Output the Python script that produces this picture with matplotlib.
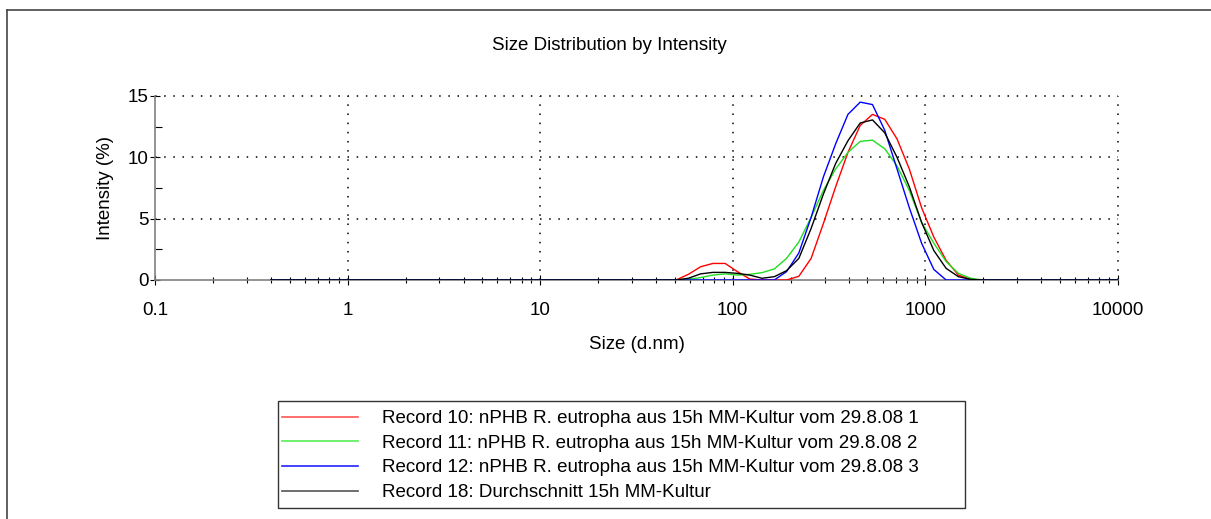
import matplotlib
matplotlib.use("Agg")
import matplotlib.pyplot as plt
from matplotlib.lines import Line2D
from matplotlib.patches import Rectangle
from matplotlib.ticker import LogLocator, FixedLocator, NullFormatter

plt.rcParams['font.family'] = ['Liberation Sans', 'DejaVu Sans']

# Size bins (d.nm)
sizes = [0.4, 0.4632, 0.5365, 0.6213, 0.7195, 0.8332, 0.9649, 1.117, 1.294, 1.499,
         1.736, 2.010, 2.328, 2.696, 3.122, 3.615, 4.187, 4.849, 5.615, 6.503,
         7.531, 8.721, 10.10, 11.70, 13.54, 15.69, 18.17, 21.04, 24.36, 28.21,
         32.67, 37.84, 43.82, 50.75, 58.77, 68.06, 78.82, 91.28, 105.7, 122.4,
         141.8, 164.2, 190.1, 220.2, 255.0, 295.3, 342.0, 396.1, 458.7, 531.2,
         615.1, 712.4, 825.0, 955.4, 1106, 1281, 1484, 1718, 1990, 2305,
         2669, 3091, 3580, 4145, 4801, 5560, 6439, 7456, 8635, 10000]

n_lead = 33  # bins up to 43.82 nm that are zero
n_tail = 11  # bins from 2305 nm on that are zero

rec10_peak = [0.0, 0.46, 1.08, 1.35, 1.35, 0.68, 0.08, 0.0, 0.0, 0.0,
              0.3, 1.76, 4.6, 7.6, 10.4, 12.6, 13.5, 13.1, 11.5, 9.05,
              5.9, 3.5, 1.6, 0.4, 0.05, 0.0]
rec11_peak = [0.0, 0.05, 0.2, 0.4, 0.5, 0.4, 0.46, 0.6, 0.9, 1.76,
              3.1, 5.1, 7.3, 9.05, 10.4, 11.3, 11.4, 10.7, 9.3, 7.3,
              4.7, 3.0, 1.5, 0.54, 0.14, 0.0]
rec12_peak = [0.0, 0.0, 0.0, 0.0, 0.0, 0.0, 0.0, 0.0, 0.0, 0.68,
              2.2, 5.1, 8.4, 11.1, 13.5, 14.5, 14.3, 12.2, 9.05, 5.9,
              3.0, 0.86, 0.0, 0.0, 0.0, 0.0]
rec18_peak = [0.0, 0.14, 0.5, 0.62, 0.62, 0.54, 0.4, 0.14, 0.27, 0.76,
              1.76, 4.2, 7.0, 9.5, 11.35, 12.8, 13.05, 12.0, 10.0, 7.6,
              4.7, 2.4, 0.95, 0.27, 0.05, 0.0]

labels = ["Record 10: nPHB R. eutropha aus 15h MM-Kultur vom 29.8.08 1",
          "Record 11: nPHB R. eutropha aus 15h MM-Kultur vom 29.8.08 2",
          "Record 12: nPHB R. eutropha aus 15h MM-Kultur vom 29.8.08 3",
          "Record 18: Durchschnitt 15h MM-Kultur"]
colors = ["#ff0000", "#22dd22", "#0000ff", "#000000"]
legend_colors = ["#ff5555", "#55ee55", "#2222ff", "#555555"]

xtick_vals = [0.1, 1, 10, 100, 1000, 10000]
xtick_labels = ["0.1", "1", "10", "100", "1000", "10000"]
ytick_vals = [0, 5, 10, 15]

series = [[0.0] * n_lead + p + [0.0] * n_tail
          for p in (rec10_peak, rec11_peak, rec12_peak, rec18_peak)]

FS = 13.5
fig = plt.figure(figsize=(12.11, 5.19), dpi=100)
W, H = 1211, 519
ax = fig.add_axes([155 / W, 1 - 280 / H, (1118 - 155) / W, (280 - 96) / H])

for y, c, lab in zip(series, colors, labels):
    ax.plot(sizes, y, color=c, lw=1.0, label=lab, zorder=3)

ax.set_xscale('log')
ax.set_xlim(0.1, 10000)
ax.set_ylim(0, 15)
ax.xaxis.set_major_locator(FixedLocator(xtick_vals))
ax.set_xticklabels(xtick_labels)
ax.xaxis.set_minor_locator(LogLocator(base=10, subs=range(2, 10)))
ax.xaxis.set_minor_formatter(NullFormatter())
ax.set_yticks(ytick_vals)
ax.yaxis.set_minor_locator(FixedLocator([2.5, 7.5, 12.5]))

for s in ['top', 'right']:
    ax.spines[s].set_visible(False)
for s in ['left', 'bottom']:
    ax.spines[s].set_color('#808080')
    ax.spines[s].set_linewidth(1.2)

ax.tick_params(axis='both', which='major', direction='inout', length=7, width=0.8,
               color='black', labelsize=FS)
ax.tick_params(axis='x', which='minor', direction='inout', length=5, width=0.8, color='black')
ax.tick_params(axis='y', which='minor', direction='in', length=5, width=0.8, color='black')
ax.tick_params(axis='x', which='major', pad=12)
ax.tick_params(axis='y', which='major', pad=1)

# dotted grid
for gx in xtick_vals[1:]:
    ax.axvline(gx, color='black', ls=(0, (1, 5)), lw=1.1, zorder=1, clip_on=False)
for gy in ytick_vals[1:]:
    ax.axhline(gy, color='black', ls=(0, (1, 5)), lw=1.1, zorder=1, clip_on=False)

ax.set_xlabel("Size (d.nm)", fontsize=FS)
ax.xaxis.set_label_coords(0.5, (280 - 336) / 184)
ax.set_ylabel("Intensity (%)", fontsize=FS)
ax.yaxis.set_label_coords((114 - 155) / 963, 0.5)
fig.text(609 / W, 1 - 45 / H, "Size Distribution by Intensity", ha='center', va='center', fontsize=FS)

# legend (frame drawn separately)
leg_handles = [Line2D([], [], color=c, lw=1.2) for c in legend_colors]
leg = fig.legend(handles=leg_handles, labels=labels, loc='upper left',
                 bbox_to_anchor=(278 / W, 1 - 406 / H), fontsize=FS,
                 frameon=False, handlelength=4.05, handletextpad=1.3,
                 borderpad=0.22, labelspacing=0.40, borderaxespad=0)
fig.add_artist(Rectangle((278 / W, 1 - 508 / H), (965 - 278) / W, (508 - 401) / H,
                         transform=fig.transFigure, fill=False, edgecolor='#333333', lw=1.0))

# outer frame (left and top edges)
fig.add_artist(Line2D([7 / W, 7 / W], [0, 1 - 10 / H], color='#444444', lw=1.2))
fig.add_artist(Line2D([7 / W, 1], [1 - 10 / H, 1 - 10 / H], color='#444444', lw=1.2))

fig.savefig("out.png", dpi=100)
